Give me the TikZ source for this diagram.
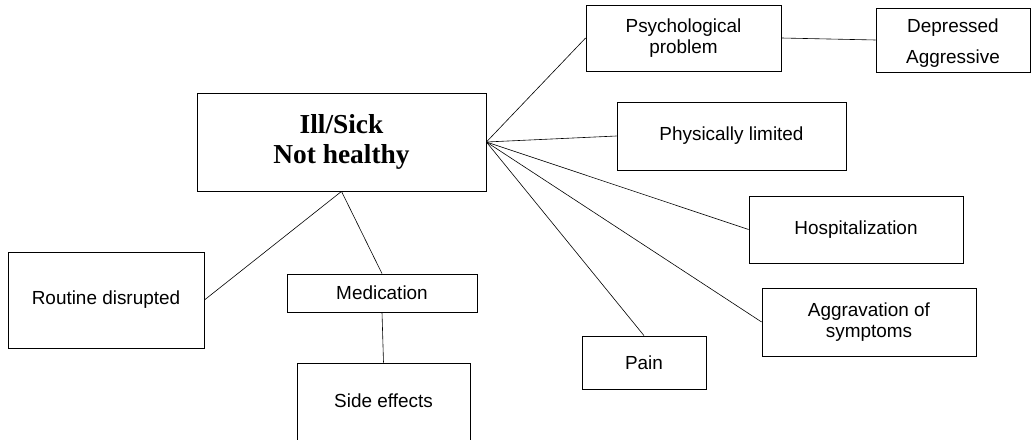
\documentclass[tikz,border=0pt]{standalone}
\usepackage{fontspec}
\setmainfont{Liberation Serif}
\setsansfont{Liberation Sans}
\begin{document}
\begin{tikzpicture}[x=1bp,y=-1bp,
  box/.style={draw=black,line width=0.8bp,inner sep=0pt,align=center,
    font=\sffamily\fontsize{19}{21.5}\selectfont},
  mainbox/.style={box,font=\rmfamily\bfseries\fontsize{27.5}{31}\selectfont},
  link/.style={draw=black,line width=0.6bp}]
\useasboundingbox (0,0) rectangle (1031,440);
\clip (0,0) rectangle (1031,440);

% central concept
\node[mainbox,minimum width=289bp,minimum height=98bp] (main) at (341.5,142) {Ill/Sick\\Not healthy};

% right-hand branches
\node[box,minimum width=195bp,minimum height=66bp] (psych) at (683.5,38) {Psychological\\problem};
\node[box,minimum width=154bp,minimum height=64bp] (depr) at (953,40) {};
\node[box,draw=none,font=\sffamily\fontsize{19}{31}\selectfont] (deprtext) at (953,43) {Depressed\\Aggressive};
\node[box,minimum width=229bp,minimum height=68bp] (phys) at (731.5,136) {Physically limited};
\node[box,minimum width=214bp,minimum height=67bp] (hosp) at (856,229.5) {Hospitalization};
\node[box,minimum width=214bp,minimum height=68bp] (aggr) at (869,322) {Aggravation of\\symptoms};
\node[box,minimum width=124bp,minimum height=53bp] (pain) at (644,362.5) {Pain};

% left-hand branches
\node[box,minimum width=196bp,minimum height=96bp] (routine) at (106,300) {Routine disrupted};
\node[box,minimum width=190bp,minimum height=38bp] (med) at (382,293) {Medication};
\node[box,minimum width=173bp,minimum height=100bp] (side) at (383.5,413) {};
\node[box,draw=none] (sidetext) at (383.5,401) {Side effects};

% connectors
\draw[link] (main.east) -- (psych.west);
\draw[link] (main.east) -- (phys.west);
\draw[link] (main.east) -- (hosp.west);
\draw[link] (main.east) -- (aggr.west);
\draw[link] (main.east) -- (pain.north);
\draw[link] (psych.east) -- (depr.west);
\draw[link] (main.south) -- (routine.east);
\draw[link] (main.south) -- (med.north);
\draw[link] (med.south) -- (side.north);
\end{tikzpicture}
\end{document}
